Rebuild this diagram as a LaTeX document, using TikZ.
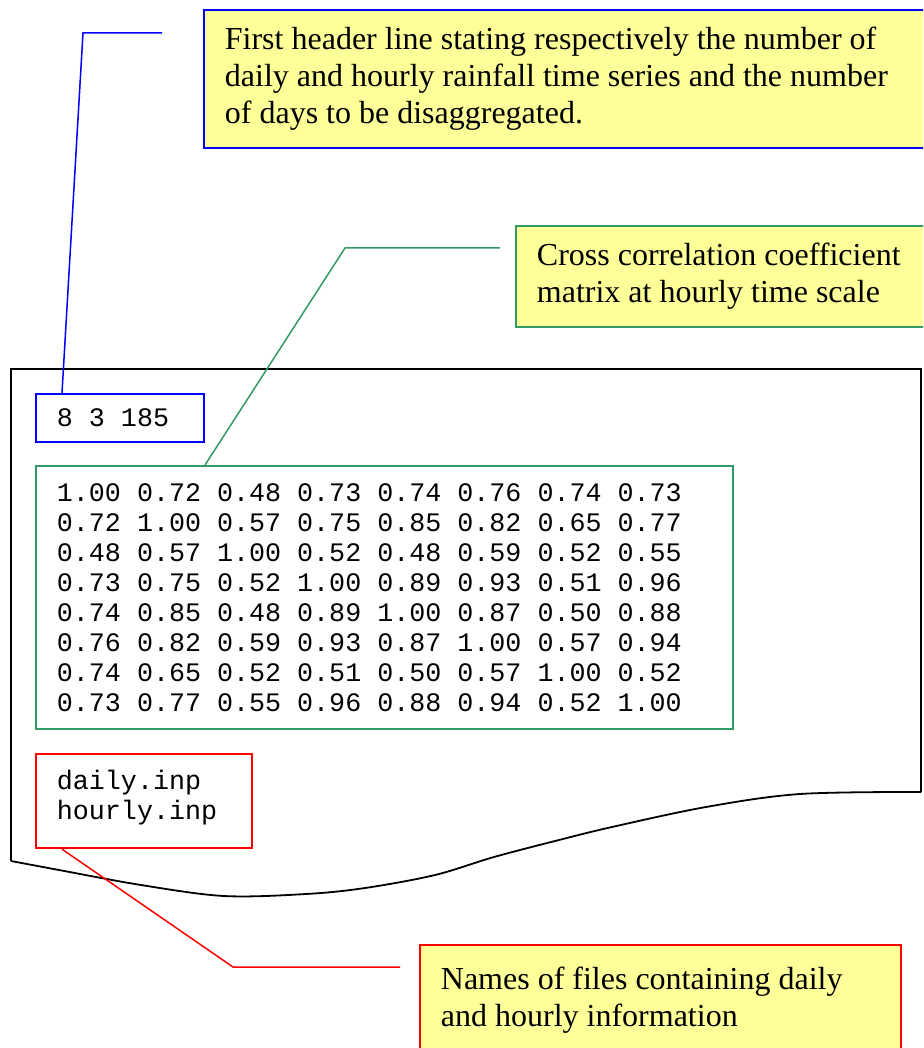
\documentclass[tikz,border=0pt]{standalone}
\usepackage{fontspec}
\setmainfont{Liberation Serif}
\setmonofont{Liberation Mono}

\definecolor{notefill}{RGB}{255,255,153}
\definecolor{noteblue}{RGB}{0,0,255}
\definecolor{notegreen}{RGB}{51,153,102}
\definecolor{notered}{RGB}{255,0,0}

\begin{document}
\begin{tikzpicture}[x=1pt, y=-1pt,
		note/.style={rectangle, fill=notefill, line width=1.8pt, anchor=north west,
			align=left, font=\fontsize{32}{37}\selectfont,
			execute at begin node={\spaceskip=0pt\relax},
			inner xsep=21pt, inner ysep=0pt},
		field/.style={rectangle, fill=white, line width=1.8pt, anchor=north west,
			align=left, font=\fontsize{26.7}{30}\selectfont\ttfamily,
			execute at begin node={\spaceskip=0pt\relax},
			inner xsep=21pt, inner ysep=0pt},
		leader/.style={line width=1.5pt},
		sheet/.style={line width=1.8pt, draw=black}
	]
		\useasboundingbox (0,0) rectangle (923,1048);
		\clip (0,0) rectangle (923,1048);
		% folha do arquivo de entrada
		\draw[sheet] (921,792) -- (921,369) -- (11,369) -- (11,861)
			plot[smooth, tension=0.55] coordinates {(11,861) (59,870) (141,885) (224,896)
				(306,894) (365,888) (435,875) (494,857) (559,840) (612,827)
				(706,807) (800,794) (921,792)};
		% campos do arquivo
		\node[field, draw=noteblue, text width=126pt, minimum height=48pt] (hdrval) at (35,393) {8 3 185};
		\node[field, draw=notegreen, text width=655pt, minimum height=263pt] (corrmat) at (35,465) {%
			1.00 0.72 0.48 0.73 0.74 0.76 0.74 0.73\\
			0.72 1.00 0.57 0.75 0.85 0.82 0.65 0.77\\
			0.48 0.57 1.00 0.52 0.48 0.59 0.52 0.55\\
			0.73 0.75 0.52 1.00 0.89 0.93 0.51 0.96\\
			0.74 0.85 0.48 0.89 1.00 0.87 0.50 0.88\\
			0.76 0.82 0.59 0.93 0.87 1.00 0.57 0.94\\
			0.74 0.65 0.52 0.51 0.50 0.57 1.00 0.52\\
			0.73 0.77 0.55 0.96 0.88 0.94 0.52 1.00};
		\node[field, draw=notered, text width=174pt, inner ysep=16pt, text depth=43pt] (fnames) at (35,753) {daily.inp\\hourly.inp};
		% notas explicativas
		\node[note, draw=noteblue, text width=695pt, minimum height=138pt] (hdrnote) at (203,9) {%
			First header line stating respectively the number of\\
			daily and hourly rainfall time series and the number\\
			of days to be disaggregated.};
		\node[note, draw=notegreen, text width=383pt, minimum height=101pt] (corrnote) at (515,225) {%
			Cross correlation coefficient\\
			matrix at hourly time scale};
		\node[note, draw=notered, text width=439pt, minimum height=110pt] (fnote) at (419,944) {%
			Names of files containing daily\\
			and hourly information};
		% linhas de chamada
		\coordinate (hdrbend) at (83,33);
		\coordinate (hdrtip) at (162,33);
		\coordinate (corrbend) at (345,248);
		\coordinate (corrtip) at (500,248);
		\coordinate (fbend) at (233,967);
		\coordinate (ftip) at (400,967);
		\draw[leader, noteblue] ([xshift=27pt]hdrval.north west) -- (hdrbend) -- (hdrtip);
		\draw[leader, notegreen] ([xshift=170pt]corrmat.north west) -- (corrbend) -- (corrtip);
		\draw[leader, notered] ([xshift=27pt]fnames.south west) -- (fbend) -- (ftip);
	\end{tikzpicture}
\end{document}
